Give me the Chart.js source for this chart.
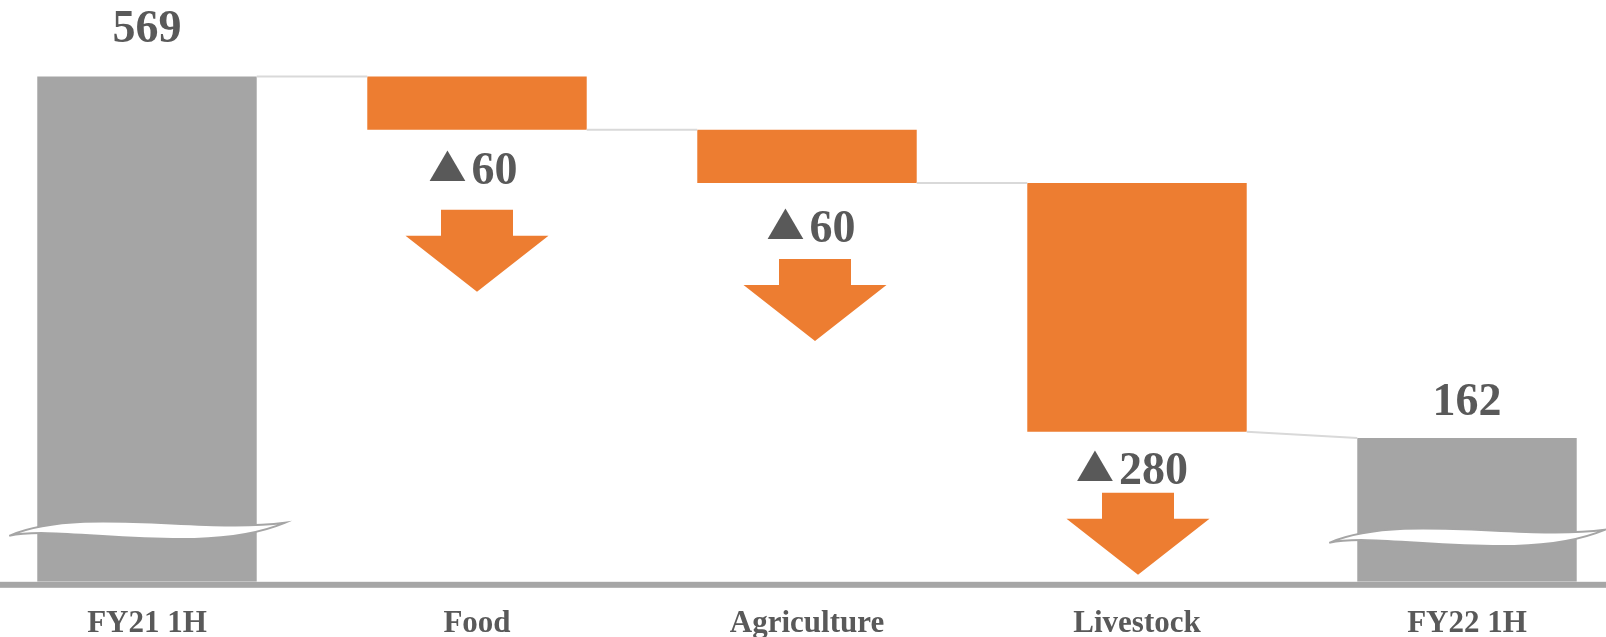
<!DOCTYPE html>
<html>
<head>
<meta charset="utf-8">
<title>FY22 1H bridge</title>
<script src="https://cdn.jsdelivr.net/npm/chart.js@4.4.1/dist/chart.umd.min.js"></script>
<style>
  html, body { margin: 0; padding: 0; background: #fff; overflow: hidden; }
  #wrap { position: absolute; left: -18px; top: 0; width: 1650px; height: 637px; }
</style>
</head>
<body>
<div id="wrap"><canvas id="chart"></canvas></div>
<script>
'use strict';

const categories = ['FY21 1H', 'Food', 'Agriculture', 'Livestock', 'FY22 1H'];
const startTotal = 569;
const changes = [-60, -60, -280];
const endTotal = 162;

const GREY = '#a5a5a5';
const ORANGE = '#ed7d31';
const TEXT = '#595959';
const FONT = "'Liberation Serif', 'Times New Roman', serif";
const NUM_FONT = `bold 46px ${FONT}`;

// per-bar label tweaks (pixels)
const totalLift = [34, 23];          // baseline of total label above bar top
const totalBreak = [53, 46];         // wave break height above axis
const deltaStyle = [
  { label: 54, arrow: 80, labelDx: -4, arrowDx: 0 },
  { label: 59, arrow: 76, labelDx: 4, arrowDx: 8 },
  { label: 52, arrow: 61, labelDx: -5, arrowDx: 1 },
];

// floating [from, to] pairs for the waterfall
function buildRanges() {
  const ranges = [[0, startTotal]];
  let level = startTotal;
  changes.forEach(c => {
    ranges.push([level + c, level]);
    level += c;
  });
  ranges.push([0, endTotal]);
  return ranges;
}
const ranges = buildRanges();
const last = categories.length - 1;
const isTotal = i => i === 0 || i === last;

// wavy axis-break band across a total bar
function drawBreak(ctx, left, right, c) {
  ctx.save();
  ctx.beginPath();
  ctx.moveTo(left - 28, c + 7);
  ctx.bezierCurveTo(left + 43, c - 23, left + 163, c + 5, right + 28, c - 6);
  ctx.bezierCurveTo(left + 163, c + 29, left + 23, c - 5, left - 28, c + 7);
  ctx.closePath();
  ctx.fillStyle = '#fff';
  ctx.fill();
  ctx.strokeStyle = GREY;
  ctx.lineWidth = 2;
  ctx.stroke();
  ctx.restore();
}

function drawArrow(ctx, cx, top) {
  const shaftW = 72, shaftH = 26, headW = 143, headH = 56;
  ctx.save();
  ctx.fillStyle = ORANGE;
  ctx.beginPath();
  ctx.moveTo(cx - shaftW / 2, top);
  ctx.lineTo(cx + shaftW / 2, top);
  ctx.lineTo(cx + shaftW / 2, top + shaftH);
  ctx.lineTo(cx + headW / 2, top + shaftH);
  ctx.lineTo(cx, top + shaftH + headH);
  ctx.lineTo(cx - headW / 2, top + shaftH);
  ctx.lineTo(cx - shaftW / 2, top + shaftH);
  ctx.closePath();
  ctx.fill();
  ctx.restore();
}

// "▲60" style label: triangle glyph fitted to 36x31, then the number
function drawDelta(ctx, value, cx, baseline) {
  const num = String(Math.abs(value));
  const triW = 36, triH = 31, gap = 7;
  ctx.save();
  ctx.fillStyle = TEXT;
  ctx.textAlign = 'left';
  ctx.textBaseline = 'alphabetic';
  ctx.font = "100px 'DejaVu Sans'";
  const tm = ctx.measureText('\u25B2');
  const inkW = tm.actualBoundingBoxLeft + tm.actualBoundingBoxRight;
  const inkH = tm.actualBoundingBoxAscent + tm.actualBoundingBoxDescent;
  ctx.font = NUM_FONT;
  const nm = ctx.measureText(num);
  const numW = nm.actualBoundingBoxLeft + nm.actualBoundingBoxRight;
  const x0 = cx - (triW + gap + numW) / 2;

  ctx.fillText(num, x0 + triW + gap + nm.actualBoundingBoxLeft, baseline);

  ctx.translate(x0, baseline - 3);
  ctx.scale(triW / inkW, triH / inkH);
  ctx.font = "100px 'DejaVu Sans'";
  ctx.fillText('\u25B2', tm.actualBoundingBoxLeft, -tm.actualBoundingBoxDescent);
  ctx.restore();
}

const bridgePlugin = {
  id: 'bridge',
  afterDatasetsDraw(chart) {
    const ctx = chart.ctx;
    const area = chart.chartArea;
    const y = chart.scales.y;
    const bars = chart.getDatasetMeta(0).data;

    // axis line
    ctx.save();
    ctx.fillStyle = '#a6a6a6';
    ctx.fillRect(0, area.bottom, chart.width, 6);
    ctx.restore();

    // connectors between neighbouring bars
    ctx.save();
    ctx.strokeStyle = '#d9d9d9';
    ctx.lineWidth = 2;
    for (let i = 0; i < last; i++) {
      const a = bars[i], b = bars[i + 1];
      const from = isTotal(i) ? ranges[i][1] : ranges[i][0];
      const to = ranges[i + 1][1];
      ctx.beginPath();
      ctx.moveTo(a.x + a.width / 2, y.getPixelForValue(from));
      ctx.lineTo(b.x - b.width / 2, y.getPixelForValue(to));
      ctx.stroke();
    }
    ctx.restore();

    bars.forEach((bar, i) => {
      const top = y.getPixelForValue(ranges[i][1]);
      const bottom = y.getPixelForValue(ranges[i][0]);
      if (isTotal(i)) {
        const k = i === 0 ? 0 : 1;
        drawBreak(ctx, bar.x - bar.width / 2, bar.x + bar.width / 2, area.bottom - totalBreak[k]);
        ctx.save();
        ctx.fillStyle = TEXT;
        ctx.font = NUM_FONT;
        ctx.textAlign = 'center';
        ctx.textBaseline = 'alphabetic';
        ctx.fillText(String(ranges[i][1]), bar.x, top - totalLift[k]);
        ctx.restore();
      } else {
        const s = deltaStyle[i - 1];
        drawDelta(ctx, changes[i - 1], bar.x + s.labelDx, bottom + s.label);
        drawArrow(ctx, bar.x + s.arrowDx, bottom + s.arrow);
      }
    });
  }
};

new Chart(document.getElementById('chart'), {
  type: 'bar',
  data: {
    labels: categories,
    datasets: [{
      data: ranges,
      backgroundColor: categories.map((c, i) => isTotal(i) ? GREY : ORANGE),
      borderWidth: 0,
      barPercentage: 0.665,
      categoryPercentage: 1,
    }],
  },
  options: {
    responsive: true,
    maintainAspectRatio: false,
    animation: false,
    layout: { padding: { top: 0, left: 0, right: 0, bottom: -30 } },
    plugins: { legend: { display: false }, tooltip: { enabled: false } },
    scales: {
      x: {
        grid: { display: false, drawTicks: false },
        border: { display: false },
        ticks: {
          color: TEXT,
          padding: 24,
          maxRotation: 0,
          font: { family: FONT, size: 31, weight: 'bold' },
        },
      },
      y: { display: false, min: 0, max: 655 },
    },
  },
  plugins: [bridgePlugin],
});
</script>
</body>
</html>
